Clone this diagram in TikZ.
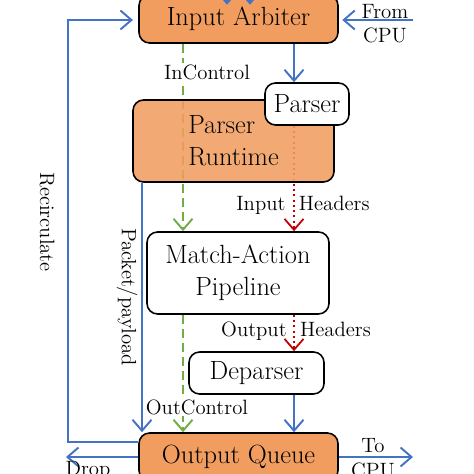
\documentclass[tikz,border=0pt]{standalone}
\usetikzlibrary{arrows.meta,backgrounds}
\definecolor{boxorange}{RGB}{241,157,96}
\definecolor{flowblue}{RGB}{68,114,196}
\definecolor{ctrlgreen}{RGB}{112,173,71}
\definecolor{hdrred}{RGB}{192,0,0}

\begin{document}
\begin{tikzpicture}
	\tikzset{block/.style={draw=black,line width=0.9pt,rounded corners=6pt,align=center,inner sep=0pt,font=\fontsize{15}{18}\selectfont}}
	\tikzset{stage/.style={block,fill=boxorange}}
	\tikzset{plain/.style={block,fill=white}}
	\tikzset{tag/.style={font=\fontsize{11.8}{13.5}\selectfont,align=center,inner sep=1pt}}
	\tikzset{barb/.style={-{Straight Barb[length=2.2mm,width=3.8mm]}}}
	\tikzset{flow/.style={barb,draw=flowblue,line width=1.1pt}}
	\tikzset{ctrl/.style={barb,draw=ctrlgreen,line width=1.1pt,dash pattern=on 5pt off 3pt}}
	\tikzset{hdr/.style={barb,draw=hdrred,line width=1pt,dash pattern=on 1.1pt off 1.9pt}}

	\path[use as bounding box,clip] (0,0) rectangle (9.48,9.48);

	\node[stage,minimum width=3.98cm,minimum height=0.96cm] (ia) at (4.77,9.10) {Input Arbiter};
	\node[stage,minimum width=4.02cm,minimum height=1.64cm,fill opacity=0.88,text opacity=1,align=left] (pr) at (4.67,6.66) {Parser\\Runtime};
	\node[plain,minimum width=1.68cm,minimum height=0.84cm] (parser) at (6.14,7.40) {Parser};
	\node[plain,minimum width=3.64cm,minimum height=1.64cm] (map) at (4.76,4.02) {Match-Action\\Pipeline};
	\node[plain,minimum width=2.70cm,minimum height=0.84cm] (dep) at (5.13,2.02) {Deparser};
	\node[stage,minimum width=3.98cm,minimum height=0.96cm] (oq) at (4.77,0.34) {Output Queue};

	\coordinate (gx) at (3.66,0);
	\coordinate (rx) at (5.88,0);
	\coordinate (px) at (2.84,0);
	\coordinate (rc) at (1.36,5);
	\coordinate (drop) at (1.32,0.34);
	\coordinate (tocpu) at (8.26,0.34);
	\coordinate (fromcpu) at (8.26,9.08);
	\coordinate (topa) at (4.54,10);
	\coordinate (topb) at (5.00,10);

	\begin{scope}[on background layer]
	\draw[ctrl] (ia.south -| gx) -- (map.north -| gx);
	\draw[hdr] (parser.south -| rx) -- (map.north -| rx);
	\end{scope}
	\draw[flow] (ia.south -| rx) -- (parser.north -| rx);
	\draw[ctrl] (map.south -| gx) -- (oq.north -| gx);
	\draw[hdr] (map.south -| rx) -- (dep.north -| rx);
	\draw[flow] (dep.south -| rx) -- (oq.north -| rx);
	\draw[flow] (pr.south -| px) -- (oq.north -| px);

	\draw[flow,shorten >=3pt] (oq.west |- 0,0.64) -| (rc) |- (ia.west |- fromcpu);
	\draw[flow,shorten >=2pt] (fromcpu) -- (ia.east |- fromcpu);
	\draw[flow] (oq.west |- drop) -- (drop);
	\draw[flow] (oq.east |- tocpu) -- (tocpu);
	\draw[flow] (topa) -- ([yshift=-6pt]topa |- ia.north);
	\draw[flow] (topb) -- ([yshift=-6pt]topb |- ia.north);

	\node[tag,fill=white] (incl) at (4.14,8.04) {InControl};
	\node[tag,fill=white] (outcl) at (3.94,1.34) {OutControl};
	\node[tag] (inh) at (6.06,5.38) {Input\ \ Headers};
	\node[tag] (outh) at (5.92,2.86) {Output\ \ Headers};
	\node[tag] (fc) at (7.70,9.01) {From\\CPU};
	\node[tag] (to) at (7.46,0.56) {To};
	\node[tag] (cpu) at (7.46,0.08) {CPU};
	\node[tag] (dl) at (1.76,0.08) {Drop};
	\node[tag,rotate=-90] (recl) at (0.94,5.04) {Recirculate};
	\node[tag,rotate=-90] (pkl) at (2.54,3.54) {Packet/payload};
\end{tikzpicture}
\end{document}
